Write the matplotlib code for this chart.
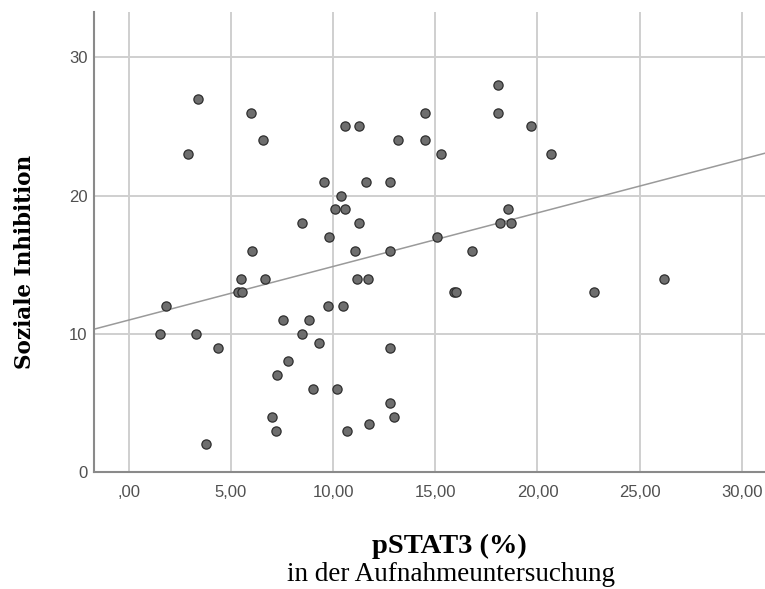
import matplotlib
matplotlib.use("Agg")
import matplotlib.pyplot as plt
import numpy as np

# pSTAT3 (%) vs. Soziale Inhibition
pstat3 = [3.38, 2.92, 5.98, 6.57, 10.6, 11.27, 13.17, 9.54, 11.6, 12.78,
          10.37, 10.08, 10.6, 8.46, 11.27, 9.78, 6.05, 11.09, 12.78, 5.51,
          6.67, 11.17, 11.69, 5.36, 5.56, 18.08, 18.08, 14.5, 14.5, 19.7,
          15.28, 20.68, 18.57, 18.18, 18.7, 15.1, 16.8, 26.19, 15.9, 16.0,
          22.78, 1.83, 1.52, 3.28, 4.38, 3.8, 9.74, 10.47, 7.57, 8.84,
          8.46, 9.33, 7.81, 7.27, 9.0, 10.19, 7.0, 7.22, 10.7, 11.76,
          12.78, 12.77, 12.98]
inhibition = [27, 23, 26, 24, 25, 25, 24, 21, 21, 21,
              20, 19, 19, 18, 18, 17, 16, 16, 16, 14,
              14, 14, 14, 13, 13, 28, 26, 26, 24, 25,
              23, 23, 19, 18, 18, 17, 16, 14, 13, 13,
              13, 12, 10, 10, 9, 2, 12, 12, 11, 11,
              10, 9.3, 8, 7, 6, 6, 4, 3, 3, 3.5,
              9, 5, 4]

x_ticks = [0, 5, 10, 15, 20, 25, 30]
x_ticklabels = [",00", "5,00", "10,00", "15,00", "20,00", "25,00", "30,00"]
y_ticks = [0, 10, 20, 30]

fig = plt.figure(figsize=(7.65, 5.89), dpi=100)
ax = fig.add_axes([0.1233, 0.1986, 0.8767, 0.7815])

x = np.array(pstat3)
y = np.array(inhibition)
xmin, xmax = -1.68, 31.13
ax.set_xlim(xmin, xmax)
ax.set_ylim(0, 33.3)

ax.grid(True, color="#cfcfcf", linewidth=1.4)
ax.set_axisbelow(True)

# linear fit line across whole axis
k, d = np.polyfit(x, y, 1)
xl = np.array([xmin, xmax])
ax.plot(xl, k * xl + d, color="#9a9a9a", linewidth=1.1, zorder=2)

ax.scatter(x, y, s=44, facecolor="#6e6e6e", edgecolor="#2e2e2e",
           linewidth=0.9, zorder=3)

ax.set_xticks(x_ticks)
ax.set_xticklabels(x_ticklabels)
ax.set_yticks(y_ticks)
ax.tick_params(axis="x", length=0, pad=9, labelsize=12, labelcolor="#505050")
ax.tick_params(axis="y", length=0, pad=5, labelsize=12, labelcolor="#505050")
for lab in ax.get_xticklabels() + ax.get_yticklabels():
    lab.set_family(["Liberation Sans Narrow", "Liberation Sans"])

for side in ["top", "right"]:
    ax.spines[side].set_visible(False)
for side in ["left", "bottom"]:
    ax.spines[side].set_color("#8a8a8a")
    ax.spines[side].set_linewidth(1.5)

fig.text(0.033, 0.555, "Soziale Inhibition", rotation=90, ha="center",
         va="center", family="DejaVu Serif", fontweight="bold", fontsize=15.5)
fig.text(0.588, 0.073, "pSTAT3 (%)", ha="center", va="center",
         family="Liberation Serif", fontweight="bold", fontsize=20.5)
fig.text(0.590, 0.025, "in der Aufnahmeuntersuchung", ha="center",
         va="center", family="Liberation Serif", fontsize=19.5)

fig.savefig("out.png", dpi=100)
